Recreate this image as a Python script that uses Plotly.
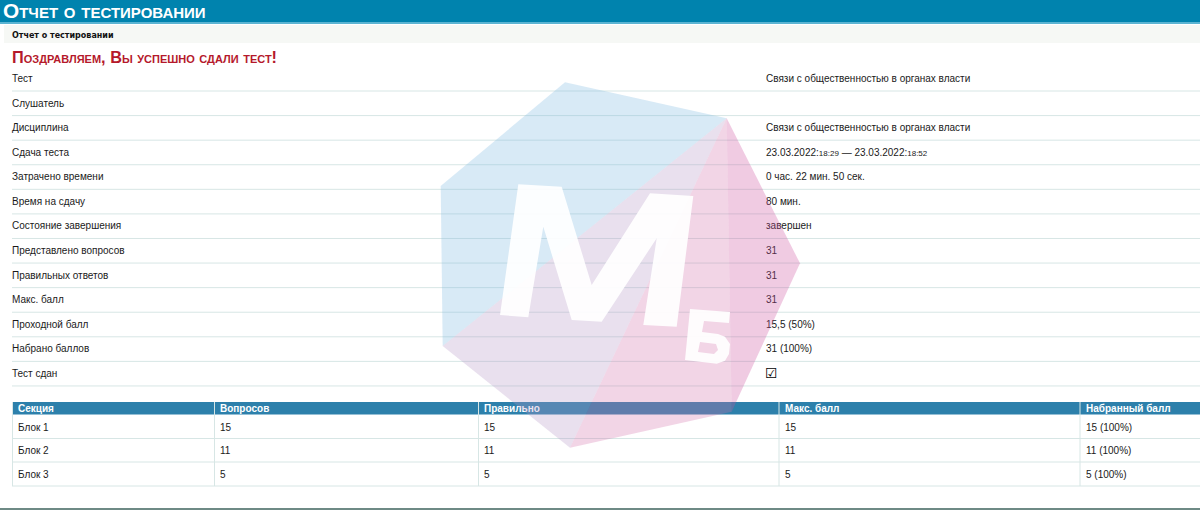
import plotly.graph_objects as go

# test summary rows
row_labels = ["Тест", "Слушатель", "Дисциплина", "Сдача теста", "Затрачено времени", "Время на сдачу",
              "Состояние завершения", "Представлено вопросов", "Правильных ответов", "Макс. балл",
              "Проходной балл", "Набрано баллов", "Тест сдан"]
small = "<span style='font-size:8px'>%s</span>"
row_values = ["Связи с общественностью в органах власти", "", "Связи с общественностью в органах власти",
              "23.03.2022:" + small % "18:29" + " — 23.03.2022:" + small % "18:52",
              "0 час. 22 мин. 50 сек.", "80 мин.", "завершен", "31", "31", "31", "15,5 (50%)", "31 (100%)", "☑"]

# section table
section_headers = ["Секция", "Вопросов", "Правильно", "Макс. балл", "Набранный балл"]
sections = ["Блок 1", "Блок 2", "Блок 3"]
questions = ["15", "11", "5"]
correct = ["15", "11", "5"]
max_score = ["15", "11", "5"]
scored = ["15 (100%)", "11 (100%)", "5 (100%)"]

TITLE = "Отчет о тестировании"
CONGRATS = "Поздравляем, Вы успешно сдали тест!"

FONT = "Liberation Sans"
LINE = "#d7e6e5"

# layout in page pixels
col_lines = [214.5, 478.5, 779, 1080]
col_text = [18, 220, 484, 785, 1086]
row_text = [79.5 + 24.58 * i for i in range(len(row_labels))]
row_rules = [91 + 24.58 * i for i in range(len(row_labels))]
sec_text = [428, 451.5, 475]
sec_rules = [438.5, 462, 486]


def path(points, scale=3.0, ox=420, oy=70):
    return "M" + "L".join(f"{x / scale + ox:.1f},{y / scale + oy:.1f}" for x, y in points) + "Z"


def text_trace(x, y, text, size=10, color="#1a1a1a", family=FONT, variant="normal", bold=False):
    return go.Scatter(x=x, y=y, text=text, mode="text", textposition="middle right", hoverinfo="skip",
                      textfont=dict(size=size, color=color, family=family, variant=variant,
                                    weight="bold" if bold else "normal"))


fig = go.Figure()
fig.add_trace(text_trace([3], [12.5], [TITLE], size=20.8, color="white", variant="small-caps", bold=True))
fig.add_trace(text_trace([12], [36], [TITLE], size=8, color="#111111", family="DejaVu Sans", bold=True))
fig.add_trace(text_trace([12], [59], [CONGRATS], size=16.3, color="#b5192b", variant="small-caps", bold=True))
fig.add_trace(text_trace([12] * len(row_labels), row_text, row_labels))
fig.add_trace(text_trace([766] * (len(row_values) - 1), row_text[:-1], row_values[:-1]))
fig.add_trace(text_trace([765], [row_text[-1]], row_values[-1:], size=14, family="DejaVu Sans", color="#000000", bold=True))
fig.add_trace(text_trace(col_text, [409] * 5, section_headers, color="white", bold=True))
for x, col in zip(col_text, [sections, questions, correct, max_score, scored]):
    fig.add_trace(text_trace([x] * 3, sec_text, col))

shapes = [
    dict(type="rect", x0=0, x1=1200, y0=0, y1=22, fillcolor="#0083ae", line_width=0, layer="below"),
    dict(type="rect", x0=0, x1=1200, y0=22, y1=24, fillcolor="#5bb4d2", line_width=0, layer="below"),
    dict(type="rect", x0=4, x1=1200, y0=25, y1=43, fillcolor="#f6f8f5", line_width=0, layer="below"),
    dict(type="rect", x0=12, x1=1200, y0=402, y1=414.5, fillcolor="#2d80ab", line_width=0, layer="below"),
    dict(type="rect", x0=0, x1=1200, y0=508, y1=510, fillcolor="#6e8a85", line_width=0, layer="below"),
]
for y in row_rules + sec_rules:
    shapes.append(dict(type="line", x0=12, x1=1200, y0=y, y1=y, line=dict(color=LINE, width=1), layer="below"))
for x in [12.5] + col_lines:
    shapes.append(dict(type="line", x0=x, x1=x, y0=402, y1=486, line=dict(color=LINE, width=1), layer="below"))

# logo watermark over the page
logo = [
    ("rgba(125,185,225,0.3)", [(435, 37), (920, 145), (68, 828), (62, 348)]),
    ("rgba(182,152,198,0.3)", [(920, 145), (450, 1133), (68, 828)]),
    ("rgba(212,115,172,0.3)", [(920, 145), (935, 1025), (450, 1133)]),
    ("rgba(205,82,158,0.3)", [(920, 145), (1140, 580), (935, 1025)]),
]
for color, pts in logo:
    shapes.append(dict(type="path", path=path(pts), fillcolor=color, line_width=0, layer="above"))
letter_m = [(295, 343), (425, 350), (515, 645), (690, 370), (820, 378), (770, 770), (670, 765), (710, 505),
            (545, 755), (455, 750), (370, 470), (325, 742), (240, 735)]
letter_b = [(810, 717), (930, 726), (927, 759), (852, 753), (846, 786), (894, 792), (915, 800), (930, 822),
            (927, 852), (915, 872), (890, 881), (795, 870)]
letter_b_hole = [(840, 816), (834, 846), (882, 852), (894, 840), (888, 822)]
shapes.append(dict(type="path", path=path(letter_m), fillcolor="rgba(255,255,255,0.92)", line_width=0, layer="above"))
shapes.append(dict(type="path", path=path(letter_b) + path(letter_b_hole), fillcolor="rgba(255,255,255,0.92)",
                   line_width=0, layer="above"))

fig.update_layout(
    width=1200, height=510, margin=dict(l=0, r=0, t=0, b=0), showlegend=False,
    paper_bgcolor="white", plot_bgcolor="white", shapes=shapes,
    xaxis=dict(range=[0, 1200], visible=False, fixedrange=True),
    yaxis=dict(range=[510, 0], visible=False, fixedrange=True),
)
# the screenshot has no page margin around the report
fig.write_html("out.html", config=dict(displayModeBar=False), post_script="document.body.style.margin='0';")
